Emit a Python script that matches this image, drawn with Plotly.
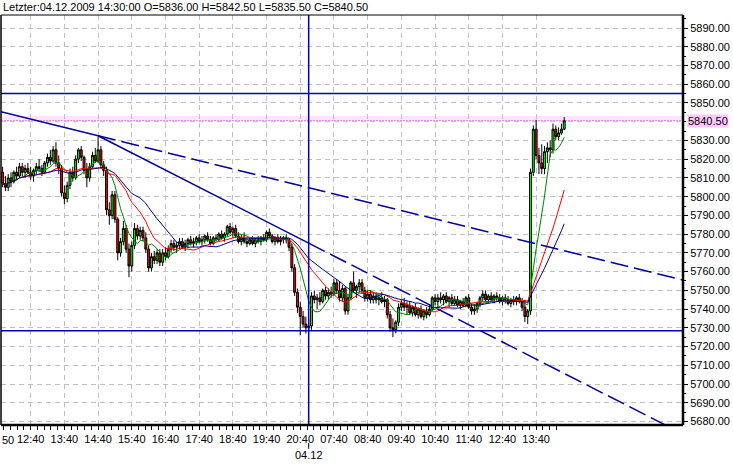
import pandas as pd
import plotly.graph_objects as go

title_text = "Letzter:04.12.2009 14:30:00 O=5836.00 H=5842.50 L=5835.50 C=5840.50"

day1_times = pd.date_range("2009-12-03 11:50", "2009-12-03 20:55", freq="5min")
day2_times = pd.date_range("2009-12-04 07:00", "2009-12-04 14:30", freq="5min")
times = list(day1_times) + list(day2_times)

opens = [
    5813, 5807, 5805, 5810, 5808, 5813, 5811, 5816, 5813, 5815,
    5813, 5811, 5814, 5816, 5815, 5813, 5818, 5821, 5819, 5825,
    5818, 5815, 5802, 5799, 5806, 5813, 5810, 5820, 5825, 5821,
    5814, 5810, 5816, 5822, 5819, 5825, 5817, 5814, 5793, 5790,
    5801, 5788, 5770, 5776, 5783, 5772, 5763, 5774, 5783, 5779,
    5782, 5778, 5772, 5762, 5768, 5766, 5770, 5765, 5770, 5768,
    5772, 5775, 5773, 5774, 5776, 5773, 5775, 5777, 5775, 5776,
    5778, 5776, 5777, 5779, 5777, 5775, 5778, 5777, 5780, 5778,
    5780, 5784, 5781, 5783, 5779, 5776, 5778, 5776, 5775, 5777,
    5775, 5777, 5776, 5778, 5777, 5781, 5779, 5776, 5778, 5776,
    5777, 5778, 5777, 5773, 5762, 5749, 5741, 5736, 5732, 5730,
    5731, 5747, 5745, 5746, 5744, 5750, 5747, 5749, 5748, 5754,
    5750, 5746, 5751, 5739, 5746, 5754, 5750, 5752, 5754, 5750,
    5746, 5748, 5745, 5747, 5745, 5746, 5744, 5745, 5737, 5730,
    5729, 5733, 5741, 5743, 5741, 5742, 5738, 5741, 5737, 5740,
    5736, 5739, 5737, 5740, 5746, 5744, 5746, 5745, 5747, 5744,
    5746, 5743, 5745, 5742, 5744, 5742, 5746, 5741, 5739, 5740,
    5743, 5746, 5748, 5745, 5747, 5745, 5747, 5746, 5744, 5746,
    5745, 5743, 5745, 5744, 5746, 5744, 5741, 5736, 5739, 5813,
    5836, 5822, 5818, 5815, 5824, 5826, 5825, 5836, 5832, 5834, 5836,
]
highs = [
    5816, 5811, 5812, 5813, 5814, 5816, 5818, 5818, 5817, 5818,
    5816, 5815, 5818, 5820, 5817, 5819, 5823, 5825, 5827, 5829,
    5822, 5817, 5806, 5808, 5815, 5816, 5822, 5826, 5827, 5822,
    5818, 5818, 5824, 5826, 5832, 5827, 5819, 5816, 5797, 5803,
    5803, 5789, 5778, 5787, 5785, 5775, 5776, 5786, 5785, 5784,
    5784, 5781, 5774, 5770, 5771, 5772, 5772, 5772, 5773, 5774,
    5777, 5777, 5776, 5778, 5778, 5777, 5778, 5779, 5778, 5779,
    5780, 5779, 5780, 5781, 5779, 5779, 5780, 5781, 5782, 5781,
    5785, 5786, 5784, 5785, 5781, 5780, 5781, 5778, 5778, 5779,
    5778, 5779, 5779, 5780, 5782, 5783, 5780, 5779, 5780, 5779,
    5779, 5780, 5778, 5775, 5764, 5751, 5744, 5739, 5736, 5735,
    5749, 5750, 5748, 5749, 5751, 5752, 5751, 5752, 5756, 5756,
    5755, 5753, 5752, 5748, 5755, 5760, 5753, 5756, 5756, 5752,
    5750, 5750, 5749, 5749, 5748, 5749, 5747, 5746, 5739, 5735,
    5734, 5743, 5745, 5746, 5744, 5744, 5742, 5743, 5741, 5742,
    5740, 5741, 5742, 5747, 5748, 5748, 5749, 5748, 5749, 5747,
    5748, 5747, 5747, 5745, 5746, 5747, 5748, 5743, 5742, 5744,
    5747, 5750, 5750, 5748, 5749, 5748, 5749, 5748, 5747, 5748,
    5747, 5746, 5747, 5747, 5748, 5746, 5745, 5740, 5815, 5838,
    5841, 5826, 5828, 5827, 5829, 5830, 5839, 5838, 5837, 5839, 5842.5,
]
lows = [
    5805, 5803, 5803, 5805, 5807, 5809, 5810, 5811, 5810, 5812,
    5809, 5808, 5812, 5813, 5811, 5812, 5816, 5817, 5818, 5816,
    5812, 5800, 5796, 5797, 5804, 5808, 5809, 5818, 5819, 5812,
    5805, 5808, 5815, 5818, 5818, 5815, 5811, 5790, 5785, 5788,
    5786, 5766, 5768, 5774, 5770, 5757, 5760, 5772, 5777, 5777,
    5776, 5770, 5760, 5760, 5764, 5764, 5763, 5763, 5766, 5767,
    5770, 5771, 5770, 5772, 5772, 5771, 5773, 5774, 5773, 5774,
    5775, 5774, 5775, 5776, 5774, 5774, 5776, 5776, 5777, 5776,
    5779, 5780, 5778, 5778, 5775, 5774, 5775, 5773, 5774, 5774,
    5773, 5775, 5774, 5776, 5776, 5778, 5775, 5774, 5775, 5774,
    5775, 5775, 5771, 5760, 5747, 5738, 5726, 5730, 5727, 5728,
    5729, 5743, 5740, 5742, 5743, 5745, 5745, 5746, 5747, 5748,
    5744, 5744, 5737, 5737, 5745, 5749, 5746, 5749, 5748, 5744,
    5744, 5743, 5743, 5743, 5742, 5743, 5741, 5735, 5728, 5725,
    5727, 5731, 5739, 5739, 5737, 5737, 5736, 5736, 5735, 5735,
    5734, 5735, 5736, 5739, 5742, 5741, 5743, 5742, 5743, 5741,
    5742, 5742, 5741, 5740, 5741, 5741, 5740, 5737, 5737, 5738,
    5741, 5744, 5744, 5743, 5744, 5743, 5744, 5743, 5742, 5743,
    5742, 5741, 5742, 5742, 5743, 5739, 5733, 5732, 5737, 5811,
    5820, 5812, 5812, 5812, 5818, 5821, 5823, 5830, 5830, 5833, 5835.5,
]
closes = [
    5807, 5805, 5810, 5808, 5813, 5811, 5816, 5813, 5815, 5813,
    5811, 5814, 5816, 5815, 5813, 5818, 5821, 5819, 5825, 5818,
    5815, 5802, 5799, 5806, 5813, 5810, 5820, 5825, 5821, 5814,
    5810, 5816, 5822, 5819, 5825, 5817, 5814, 5793, 5790, 5801,
    5788, 5770, 5776, 5783, 5772, 5763, 5774, 5783, 5779, 5782,
    5778, 5772, 5762, 5768, 5766, 5770, 5765, 5770, 5768, 5772,
    5775, 5773, 5774, 5776, 5773, 5775, 5777, 5775, 5776, 5778,
    5776, 5777, 5779, 5777, 5775, 5778, 5777, 5780, 5778, 5780,
    5784, 5781, 5783, 5779, 5776, 5778, 5776, 5775, 5777, 5775,
    5777, 5776, 5778, 5777, 5781, 5779, 5776, 5778, 5776, 5777,
    5778, 5777, 5773, 5762, 5749, 5741, 5736, 5732, 5730, 5731,
    5747, 5745, 5746, 5744, 5750, 5747, 5749, 5748, 5754, 5750,
    5746, 5751, 5739, 5746, 5754, 5750, 5752, 5754, 5750, 5746,
    5748, 5745, 5747, 5745, 5746, 5744, 5745, 5737, 5730, 5729,
    5733, 5741, 5743, 5741, 5742, 5738, 5741, 5737, 5740, 5736,
    5739, 5737, 5740, 5746, 5744, 5746, 5745, 5747, 5744, 5746,
    5743, 5745, 5742, 5744, 5742, 5746, 5741, 5739, 5740, 5743,
    5746, 5748, 5745, 5747, 5745, 5747, 5746, 5744, 5746, 5745,
    5743, 5745, 5744, 5746, 5744, 5741, 5736, 5739, 5813, 5836,
    5822, 5818, 5815, 5824, 5826, 5825, 5836, 5832, 5834, 5836, 5840.5,
]

ma_periods = [8, 18, 26]
ma_colors = ["#008000", "#FF0000", "#000080"]

# Drawn objects (values on price axis, positions in bar index units)
trend_a_x = [-0.6, 34, 243]
trend_a_y = [5845.3, 5832.5, 5755.2]
trend_b_x = [34, 109, 240]
trend_b_y = [5832.5, 5775.2, 5675.1]
h_levels = [5855.0, 5728.5]
last_price = 5840.5
date_mark_index = 109
date_mark_label = "04.12"
y_ticks = [5890, 5880, 5870, 5860, 5850, 5830, 5820, 5810, 5800, 5790,
           5780, 5770, 5760, 5750, 5740, 5730, 5720, 5710, 5700, 5690, 5680]

idx = list(range(len(times)))
tick_idx = [i for i, t in enumerate(times) if t.minute == 40]
tick_txt = [times[i].strftime("%H:%M") for i in tick_idx]
minor_ticks = [tick_idx[0] + 2.4 * k for k in range(-4, 79)]

close_s = pd.Series(closes)
mas = [close_s.rolling(p, min_periods=1).mean().tolist() for p in ma_periods]

FONT = "Liberation Sans"
fig = go.Figure()

fig.add_trace(go.Candlestick(
    x=idx, open=opens, high=highs, low=lows, close=closes,
    increasing=dict(fillcolor="#00FF00", line=dict(color="black", width=1)),
    decreasing=dict(fillcolor="#FF0000", line=dict(color="black", width=1)),
    whiskerwidth=0, showlegend=False, hoverinfo="skip"))

for m, c in zip(mas, ma_colors):
    fig.add_trace(go.Scatter(x=idx, y=m, mode="lines",
                             line=dict(color=c, width=1), showlegend=False, hoverinfo="skip"))

tl_color = "#000099"
fig.add_trace(go.Scatter(x=trend_a_x[:2], y=trend_a_y[:2], mode="lines",
                         line=dict(color=tl_color, width=1.5), showlegend=False))
fig.add_trace(go.Scatter(x=trend_a_x[1:], y=trend_a_y[1:], mode="lines",
                         line=dict(color=tl_color, width=1.5, dash="18px,6px"), showlegend=False))
fig.add_trace(go.Scatter(x=trend_b_x[:2], y=trend_b_y[:2], mode="lines",
                         line=dict(color=tl_color, width=1.5), showlegend=False))
fig.add_trace(go.Scatter(x=trend_b_x[1:], y=trend_b_y[1:], mode="lines",
                         line=dict(color=tl_color, width=1.5, dash="18px,6px"), showlegend=False))

shapes = []
shapes.append(dict(type="rect", xref="paper", x0=0, x1=1, yref="y", y0=last_price, y1=last_price + 2.6,
                   fillcolor="#FFE4FF", line=dict(width=0), layer="below"))
shapes.append(dict(type="line", xref="paper", x0=0, x1=1, yref="y", y0=last_price, y1=last_price,
                   line=dict(color="#E070E0", width=1.2, dash="2px,1px"), layer="below"))
for lv in h_levels:
    shapes.append(dict(type="line", xref="paper", x0=0, x1=1, yref="y", y0=lv, y1=lv,
                       line=dict(color="#0000BB", width=1.5), layer="above"))
shapes.append(dict(type="line", xref="x", x0=date_mark_index, x1=date_mark_index, yref="paper", y0=0, y1=1,
                   line=dict(color="#0000BB", width=1.5), layer="above"))
shapes.append(dict(type="line", xref="x", x0=date_mark_index, x1=date_mark_index, yref="paper", y0=-0.044, y1=-0.058,
                   line=dict(color="black", width=1), layer="above"))
shapes.append(dict(type="line", xref="paper", yref="paper", x0=0, x1=1, y0=1, y1=1, line=dict(color="black", width=1)))
shapes.append(dict(type="line", xref="paper", yref="paper", x0=0, x1=0, y0=0, y1=1, line=dict(color="black", width=1.5)))
shapes.append(dict(type="line", xref="paper", yref="paper", x0=0, x1=1, y0=0, y1=0, line=dict(color="black", width=2.5)))
shapes.append(dict(type="line", xref="paper", yref="paper", x0=1, x1=1, y0=0, y1=1, line=dict(color="black", width=2.5)))

annotations = [
    dict(text=title_text, xref="paper", yref="paper", x=0, y=1, xanchor="left", yanchor="bottom",
         xshift=0, yshift=0, showarrow=False, font=dict(family=FONT, size=11, color="black")),
    dict(text=f"{last_price:.2f}", xref="paper", yref="y", x=1, y=last_price, xanchor="left", yanchor="middle",
         xshift=4, showarrow=False, bgcolor="#FFC8FF", borderpad=0,
         font=dict(family=FONT, size=11, color="black")),
    dict(text=date_mark_label, xref="x", yref="paper", x=date_mark_index, y=0, xanchor="center", yanchor="middle",
         yshift=-30, showarrow=False, font=dict(family=FONT, size=11, color="black")),
    dict(text="50", xref="paper", yref="paper", x=0, y=0, xanchor="left", yanchor="middle",
         yshift=-15, xshift=-1, showarrow=False, font=dict(family=FONT, size=11, color="black")),
]

fig.update_layout(
    width=733, height=465,
    margin=dict(l=1, r=50, t=15, b=40),
    paper_bgcolor="white", plot_bgcolor="white",
    showlegend=False, boxgap=0.0,
    shapes=shapes, annotations=annotations,
    font=dict(family=FONT, size=11, color="black"),
    xaxis=dict(
        range=[-0.57, 242.3], rangeslider=dict(visible=False),
        tickmode="array", tickvals=tick_idx, ticktext=tick_txt,
        ticks="outside", ticklen=4, tickcolor="black", tickwidth=1,
        showgrid=True, gridcolor="#C0C0C0", griddash="5px,4px", gridwidth=1,
        zeroline=False, showline=False,
        tickfont=dict(family=FONT, size=11, color="black"),
        minor=dict(tickmode="array", tickvals=minor_ticks, ticks="outside", ticklen=4,
                   tickcolor="black", showgrid=False),
    ),
    yaxis=dict(
        range=[5678.15, 5896.94], side="right",
        tickmode="array", tickvals=y_ticks, ticktext=[f"{v:.2f}" for v in y_ticks],
        ticks="outside", ticklen=4, tickcolor="black",
        showgrid=True, gridcolor="#C0C0C0", griddash="5px,4px", gridwidth=1,
        zeroline=False, showline=False,
        tickfont=dict(family=FONT, size=11, color="black"),
        minor=dict(dtick=5, tick0=5680, ticks="outside", ticklen=2, tickcolor="black", showgrid=False),
    ),
)
fig.add_hline(y=5840, line=dict(color="#C0C0C0", width=1, dash="5px,4px"), layer="below")

fig.write_html("out.html", config={"displayModeBar": False},
               post_script="document.body.style.margin='0px';document.body.style.overflow='hidden';")
